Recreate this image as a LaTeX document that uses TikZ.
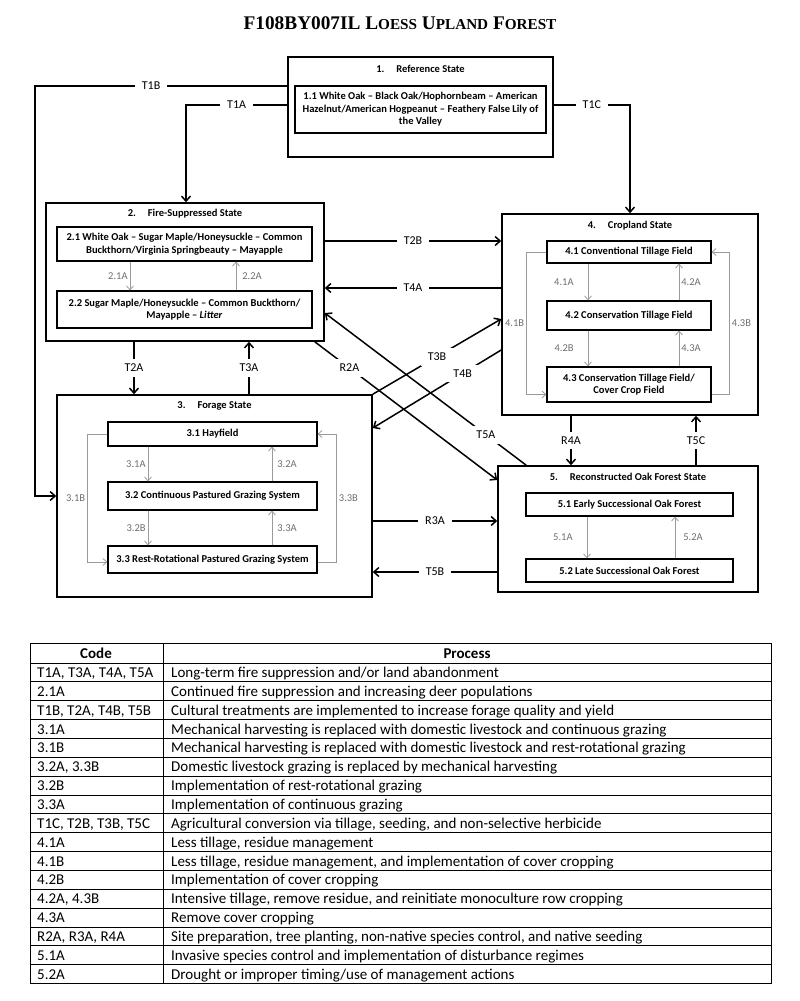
\documentclass[tikz,border=0pt]{standalone}
\usepackage{fontspec}
\setmainfont{Carlito}
\newfontfamily\titlefont{Liberation Serif}
\usetikzlibrary{arrows.meta}
\definecolor{phline}{HTML}{9A9A9A}
\definecolor{phtext}{HTML}{6E6E6E}
\newcommand{\smcap}[2]{#1{\fontsize{15.2}{15.2}\selectfont #2}}

\begin{document}
\begin{tikzpicture}[x=1pt,y=-1pt,
	state/.style={draw,line width=1.6pt},
	phase/.style={draw,line width=1.1pt,align=center,inner sep=0pt,font=\fontsize{10.5}{12.5}\selectfont\bfseries},
	head/.style={font=\fontsize{10.5}{12.5}\selectfont\bfseries},
	tr/.style={line width=1.5pt,-{Straight Barb[length=5pt,width=9pt]}},
	trlab/.style={fill=white,inner xsep=7pt,inner ysep=5pt,font=\fontsize{12}{14}\selectfont},
	ph/.style={draw=phline,line width=0.8pt,-{Straight Barb[length=4pt,width=7pt]}},
	phlab/.style={text=phtext,inner sep=2pt,font=\fontsize{10.5}{12}\selectfont},
	cell/.style={anchor=base west,inner sep=0pt,font=\fontsize{15}{17}\selectfont}]
\useasboundingbox (0,0) rectangle (800,1001);
\node[font=\titlefont\fontsize{19.3}{21}\selectfont\bfseries] (title) at (400,23) {F108BY007IL \smcap{L}{OESS} \smcap{U}{PLAND} \smcap{F}{OREST}};

\node[state,minimum width=265pt,minimum height=100pt] (s1) at (420.5,107) {};
\node[head] (h1) at ([yshift=-13pt]s1.north) {1.\hspace{12pt}Reference State};
\node[phase,minimum width=251pt,minimum height=47pt] (r11) at (420.5,109.5) {1.1 White Oak -- Black Oak/Hophornbeam -- American\\Hazelnut/American Hogpeanut -- Feathery False Lily of\\the Valley};

\node[state,minimum width=278pt,minimum height=138pt] (s2) at (185,272) {};
\node[head] (h2) at ([yshift=-11pt]s2.north) {2.\hspace{12pt}Fire-Suppressed State};
\node[phase,minimum width=255pt,minimum height=34pt] (r21) at (184.5,244) {2.1 White Oak -- Sugar Maple/Honeysuckle -- Common\\Buckthorn/Virginia Springbeauty -- Mayapple};
\node[phase,minimum width=255pt,minimum height=37pt] (r22) at (184.5,309.5) {2.2 Sugar Maple/Honeysuckle -- Common Buckthorn/\\Mayapple -- \textit{Litter}};

\node[state,minimum width=315pt,minimum height=202pt] (s3) at (214.5,496) {};
\node[head] (h3) at ([yshift=-12pt]s3.north) {3.\hspace{12pt}Forage State};
\node[phase,minimum width=209pt,minimum height=24pt] (r31) at (212.5,434) {3.1 Hayfield};
\node[phase,minimum width=209pt,minimum height=28pt] (r32) at (212.5,496) {3.2 Continuous Pastured Grazing System};
\node[phase,minimum width=209pt,minimum height=27pt] (r33) at (212.5,559.5) {3.3 Rest-Rotational Pastured Grazing System};

\node[state,minimum width=256pt,minimum height=201pt] (s4) at (630,314.5) {};
\node[head] (h4) at ([yshift=-12pt]s4.north) {4.\hspace{12pt}Cropland State};
\node[phase,minimum width=164pt,minimum height=22pt] (r41) at (629,252) {4.1 Conventional Tillage Field};
\node[phase,minimum width=164pt,minimum height=29pt] (r42) at (629,315.5) {4.2 Conservation Tillage Field};
\node[phase,minimum width=164pt,minimum height=35pt] (r43) at (629,384.5) {4.3 Conservation Tillage Field/\\Cover Crop Field};

\node[state,minimum width=260pt,minimum height=126pt] (s5) at (628,529) {};
\node[head] (h5) at ([yshift=-12pt]s5.north) {5.\hspace{12pt}Reconstructed Oak Forest State};
\node[phase,minimum width=207pt,minimum height=23pt] (r51) at (629.5,504.5) {5.1 Early Successional Oak Forest};
\node[phase,minimum width=207pt,minimum height=23pt] (r52) at (629.5,570.5) {5.2 Late Successional Oak Forest};

\draw[tr] ([yshift=21pt]s1.west) -- node[trlab,pos=.54]{T1B} ++(-252,0) |- (s3.west);
\draw[tr] ([yshift=2pt]s1.west) -| node[trlab,pos=.25]{T1A} ([xshift=1pt]s2.north);
\draw[tr] ([yshift=2pt]s1.east) -| node[trlab,pos=.25]{T1C} (s4.north);
\draw[tr] (s2.east |- 0,241) -- node[trlab]{T2B} (s4.west |- 0,241);
\draw[tr] (s4.west |- 0,288) -- node[trlab]{T4A} (s2.east |- 0,288);
\draw[tr] (s2.south -| 134,0) -- node[trlab]{T2A} (s3.north -| 134,0);
\draw[tr] (s3.north -| 249,0) -- node[trlab]{T3A} (s2.south -| 249,0);
\draw[tr] (s3.north east) -- node[trlab]{T3B} (s4.west |- 0,319);
\draw[tr] (s4.west |- 0,350) -- node[trlab,pos=.3]{T4B} (s3.east |- 0,428);
\draw[tr] ([xshift=-10pt]s2.south east) -- node[trlab,pos=.19]{R2A} (s5.west |- 0,480);
\draw[tr] ([xshift=29pt]s5.north west) -- node[trlab,pos=.2]{T5A} (s2.east |- 0,313);
\draw[tr] (s3.east |- 0,521) -- node[trlab]{R3A} (s5.west |- 0,521);
\draw[tr] (s5.west |- 0,572) -- node[trlab]{T5B} (s3.east |- 0,572);
\draw[tr] (s4.south -| 571,0) -- node[trlab]{R4A} (s5.north -| 571,0);
\draw[tr] (s5.north -| 696,0) -- node[trlab]{T5C} (s4.south -| 696,0);

\draw[ph] (r21.south -| 130,0) -- node[phlab,left]{2.1A} (r22.north -| 130,0);
\draw[ph] (r22.north -| 236,0) -- node[phlab,right=4pt]{2.2A} (r21.south -| 236,0);

\draw[ph] (r31.south -| 148,0) -- node[phlab,left]{3.1A} (r32.north -| 148,0);
\draw[ph] (r32.north -| 272,0) -- node[phlab,right=3pt]{3.2A} (r31.south -| 272,0);
\draw[ph] (r32.south -| 148,0) -- node[phlab,left]{3.2B} (r33.north -| 148,0);
\draw[ph] (r33.north -| 272,0) -- node[phlab,right=3pt]{3.3A} (r32.south -| 272,0);
\draw[ph] (r31.west) -- ++(-20,0) |- node[phlab,left,pos=.25]{3.1B} ([yshift=-2.5pt]r33.west);
\draw[ph] ([yshift=-2.5pt]r33.east) -- ++(19,0) |- node[phlab,right,pos=.25]{3.3B} (r31.east);

\draw[ph] (r41.south -| 588,0) -- node[phlab,left=12pt]{4.1A} (r42.north -| 588,0);
\draw[ph] (r42.north -| 679,0) -- node[phlab,right]{4.2A} (r41.south -| 679,0);
\draw[ph] (r42.south -| 588,0) -- node[phlab,left=12pt]{4.2B} (r43.north -| 588,0);
\draw[ph] (r43.north -| 679,0) -- node[phlab,right]{4.3A} (r42.south -| 679,0);
\draw[ph] (r41.west) -- ++(-20,0) |- node[phlab,left,pos=.25]{4.1B} ([yshift=-10pt]r43.west);
\draw[ph] ([yshift=-10pt]r43.east) -- ++(18,0) |- node[phlab,right,pos=.25]{4.3B} (r41.east);

\draw[ph] (r51.south -| 587,0) -- node[phlab,left=12pt]{5.1A} (r52.north -| 587,0);
\draw[ph] (r52.north -| 675,0) -- node[phlab,right=6pt]{5.2A} (r51.south -| 675,0);

\draw[line width=0.8pt] (30,643) rectangle (771,983.45);
\draw[line width=0.8pt] (163,643) -- (163,983.45);
\foreach \k in {0,...,16}
	\draw[line width=0.8pt] (30,{663+18.85*\k}) -- (771,{663+18.85*\k});
\node[cell,anchor=base,font=\fontsize{15}{17}\selectfont\bfseries] (hcode) at (96,658) {Code};
\node[cell,anchor=base,font=\fontsize{15}{17}\selectfont\bfseries] (hproc) at (467,658) {Process};
\foreach \rowcode/\rowtext [count=\i] in {
	{T1A, T3A, T4A, T5A}/{Long-term fire suppression and/or land abandonment},
	{2.1A}/{Continued fire suppression and increasing deer populations},
	{T1B, T2A, T4B, T5B}/{Cultural treatments are implemented to increase forage quality and yield},
	{3.1A}/{Mechanical harvesting is replaced with domestic livestock and continuous grazing},
	{3.1B}/{Mechanical harvesting is replaced with domestic livestock and rest-rotational grazing},
	{3.2A, 3.3B}/{Domestic livestock grazing is replaced by mechanical harvesting},
	{3.2B}/{Implementation of rest-rotational grazing},
	{3.3A}/{Implementation of continuous grazing},
	{T1C, T2B, T3B, T5C}/{Agricultural conversion via tillage, seeding, and non-selective herbicide},
	{4.1A}/{Less tillage, residue management},
	{4.1B}/{Less tillage, residue management, and implementation of cover cropping},
	{4.2B}/{Implementation of cover cropping},
	{4.2A, 4.3B}/{Intensive tillage, remove residue, and reinitiate monoculture row cropping},
	{4.3A}/{Remove cover cropping},
	{R2A, R3A, R4A}/{Site preparation, tree planting, non-native species control, and native seeding},
	{5.1A}/{Invasive species control and implementation of disturbance regimes},
	{5.2A}/{Drought or improper timing/use of management actions}}
{
	\node[cell] (c\i) at (37,{663+18.85*(\i-1)+14.5}) {\rowcode};
	\node[cell] (p\i) at (171,{663+18.85*(\i-1)+14.5}) {\rowtext};
}
\end{tikzpicture}
\end{document}
